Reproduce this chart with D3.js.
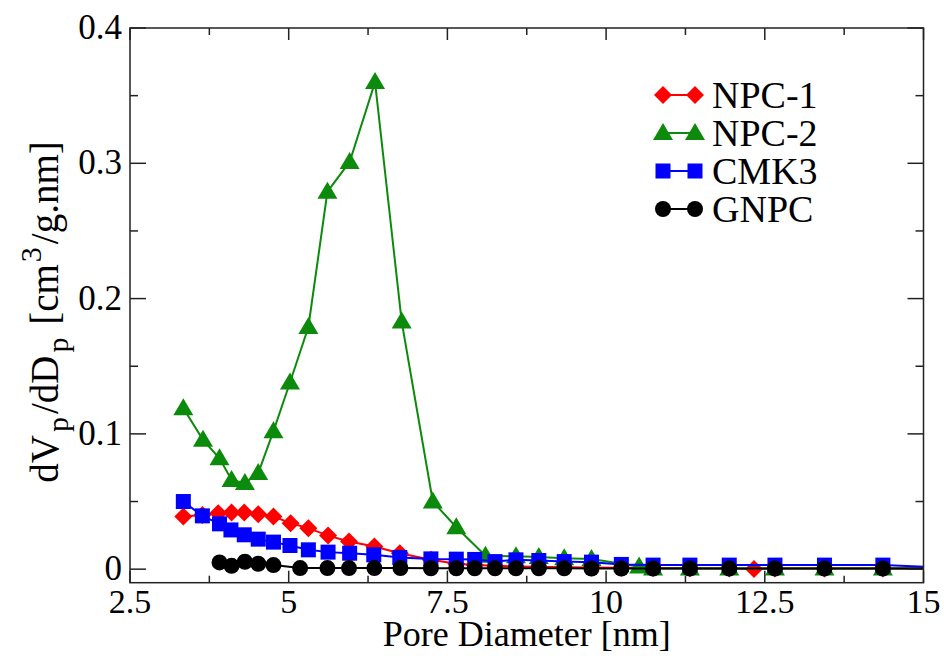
<!DOCTYPE html>
<html><head><meta charset="utf-8">
<script src="https://cdn.jsdelivr.net/npm/d3@7"></script>
<style>body{margin:0;background:#fff}svg{display:block}text{font-family:"Liberation Serif","Times New Roman",serif;fill:#000}</style>
</head><body>
<script>
// ---- data ----
const npc1X = [3.34,3.64,3.89,4.10,4.30,4.52,4.76,5.03,5.31,5.62,5.95,6.35,6.75,7.24,7.64,7.93,8.25,8.58,8.94,9.34,9.77,10.24,10.74,11.32,11.94,12.33,12.66,13.44,14.36,15.50];
const npc1Y = [0.0389,0.040,0.0414,0.0418,0.0418,0.0406,0.0389,0.034,0.0303,0.0248,0.0204,0.0167,0.0118,0.0069,0.004,0.003,0.0025,0.002,0.0018,0.0015,0.0012,0.001,0.0008,0.0006,0.0005,0.0002,0.0005,0.0005,0.0005,0.0005];
const npc2X = [3.34,3.65,3.91,4.10,4.31,4.52,4.76,5.02,5.31,5.61,5.96,6.36,6.78,7.27,7.64,8.10,8.58,8.94,9.34,9.77,10.52,10.74,11.32,11.94,12.66,13.44,14.36,15.50];
const npc2Y = [0.119,0.0956,0.082,0.066,0.0636,0.071,0.102,0.138,0.179,0.279,0.301,0.360,0.183,0.050,0.031,0.010,0.0095,0.009,0.008,0.0075,0.002,0.0005,0.0005,0.0005,0.0005,0.0005,0.0005,0.0005];
const cmk3X = [3.34,3.64,3.91,4.09,4.30,4.52,4.76,5.02,5.31,5.62,5.96,6.34,6.75,7.24,7.64,7.93,8.25,8.58,8.94,9.34,9.77,10.24,10.74,11.32,11.94,12.66,13.44,14.36,15.50];
const cmk3Y = [0.050,0.0394,0.0335,0.029,0.0254,0.0222,0.020,0.0175,0.0143,0.0126,0.0118,0.0106,0.0086,0.0076,0.0074,0.0072,0.0056,0.0069,0.0064,0.0056,0.0052,0.0035,0.003,0.003,0.003,0.003,0.003,0.003,0.001];
const gnpcX = [3.91,4.10,4.31,4.52,4.76,5.18,5.61,5.95,6.35,6.76,7.24,7.64,7.93,8.25,8.58,8.94,9.34,9.77,10.24,10.74,11.32,11.94,12.66,13.44,14.36,15.50];
const gnpcY = [0.005,0.0025,0.0055,0.004,0.003,0.0008,0.0008,0.0008,0.0008,0.0008,0.0007,0.0007,0.0007,0.0006,0.0006,0.0006,0.0006,0.0005,0.0005,0.0005,0.0005,0.0005,0.0005,0.0005,0.0005,0.0005];
const seriesNames = ["NPC-1","NPC-2","CMK3","GNPC"];
const xTickValues = [2.5,5,7.5,10,12.5,15];
const xTickLabels = ["2.5","5","7.5","10","12.5","15"];
const yTickValues = [0,0.1,0.2,0.3,0.4];
const yTickLabels = ["0","0.1","0.2","0.3","0.4"];
const xMinor = [3.75,6.25,8.75,11.25,13.75];
const yMinor = [0.05,0.15,0.25,0.35];

const W=944,H=656;
const svg=d3.select("body").append("svg").attr("width",W).attr("height",H);
const x=d3.scaleLinear().domain([2.5,15]).range([130,923.5]);
const y=d3.scaleLinear().domain([-0.01,0.4]).range([582.7,28]);

svg.append("clipPath").attr("id","clip").append("rect")
  .attr("x",x(2.5)).attr("y",y(0.4)).attr("width",x(15)-x(2.5)).attr("height",y(-0.01)-y(0.4));

const series=[
  {name:seriesNames[0],xs:npc1X,ys:npc1Y,color:"#ff0000",shape:"diamond"},
  {name:seriesNames[1],xs:npc2X,ys:npc2Y,color:"#0b8a0b",shape:"triangle"},
  {name:seriesNames[2],xs:cmk3X,ys:cmk3Y,color:"#0000ff",shape:"square"},
  {name:seriesNames[3],xs:gnpcX,ys:gnpcY,color:"#000000",shape:"circle"}
];
function marker(g,shape,cx,cy,color){
  if(shape==="diamond") g.append("path").attr("d",`M${cx},${cy-9}L${cx+9},${cy}L${cx},${cy+9}L${cx-9},${cy}Z`).attr("fill",color);
  else if(shape==="triangle") g.append("path").attr("d",`M${cx},${cy-10}L${cx+10},${cy+7}L${cx-10},${cy+7}Z`).attr("fill",color);
  else if(shape==="square") g.append("rect").attr("x",cx-7.5).attr("y",cy-7.5).attr("width",15).attr("height",15).attr("fill",color);
  else g.append("circle").attr("cx",cx).attr("cy",cy).attr("r",8).attr("fill",color);
}
const plot=svg.append("g").attr("clip-path","url(#clip)");
const line=d3.line().x(d=>x(d[0])).y(d=>y(d[1]));
series.forEach(s=>{
  const pts=s.xs.map((v,i)=>[v,s.ys[i]]);
  const g=plot.append("g");
  g.append("path").attr("d",line(pts)).attr("fill","none").attr("stroke",s.color).attr("stroke-width",2);
  pts.forEach(p=>marker(g,s.shape,x(p[0]),y(p[1]),s.color));
});

const ax=svg.append("g").attr("stroke","#222").attr("stroke-width",1.5);
ax.append("rect").attr("x",x(2.5)).attr("y",y(0.4)).attr("width",x(15)-x(2.5)).attr("height",y(-0.01)-y(0.4)).attr("fill","none");
xTickValues.forEach(v=>{
  ax.append("line").attr("x1",x(v)).attr("x2",x(v)).attr("y1",y(-0.01)).attr("y2",y(-0.01)-12);
  ax.append("line").attr("x1",x(v)).attr("x2",x(v)).attr("y1",y(0.4)).attr("y2",y(0.4)+12);
});
xMinor.forEach(v=>{
  ax.append("line").attr("x1",x(v)).attr("x2",x(v)).attr("y1",y(-0.01)).attr("y2",y(-0.01)-7);
  ax.append("line").attr("x1",x(v)).attr("x2",x(v)).attr("y1",y(0.4)).attr("y2",y(0.4)+7);
});
yTickValues.forEach(v=>{
  ax.append("line").attr("x1",x(2.5)).attr("x2",x(2.5)+16).attr("y1",y(v)).attr("y2",y(v));
  ax.append("line").attr("x1",x(15)).attr("x2",x(15)-16).attr("y1",y(v)).attr("y2",y(v));
});
yMinor.forEach(v=>{
  ax.append("line").attr("x1",x(2.5)).attr("x2",x(2.5)+8).attr("y1",y(v)).attr("y2",y(v));
  ax.append("line").attr("x1",x(15)).attr("x2",x(15)-8).attr("y1",y(v)).attr("y2",y(v));
});
xTickValues.forEach((v,i)=>{
  svg.append("text").attr("x",x(v)).attr("y",613).attr("text-anchor","middle").attr("font-size",34).text(xTickLabels[i]);
});
yTickValues.forEach((v,i)=>{
  svg.append("text").attr("x",122).attr("y",y(v)+11).attr("text-anchor","end").attr("font-size",35).text(yTickLabels[i]);
});
svg.append("text").attr("x",(x(2.5)+x(15))/2).attr("y",646).attr("text-anchor","middle").attr("font-size",36).text("Pore Diameter [nm]");
const yt=svg.append("text").attr("transform","translate(58,312) rotate(-90)").attr("text-anchor","middle").attr("font-size",39);
yt.append("tspan").text("dV");
yt.append("tspan").attr("font-size",30).attr("dy",10).attr("dx",3).text("p");
yt.append("tspan").attr("dy",-10).attr("dx",3).text("/dD");
yt.append("tspan").attr("font-size",30).attr("dy",10).attr("dx",3).text("p");
yt.append("tspan").attr("dy",-10).attr("dx",3).text(" [cm");
yt.append("tspan").attr("font-size",30).attr("dy",-17).attr("dx",2).text("3");
yt.append("tspan").attr("dy",17).attr("dx",3).text("/g.nm]");

const legY=[95,133,171,209];
series.forEach((s,i)=>{
  const g=svg.append("g");
  g.append("line").attr("x1",663).attr("x2",695).attr("y1",legY[i]).attr("y2",legY[i]).attr("stroke",s.color).attr("stroke-width",2);
  marker(g,s.shape,663,legY[i],s.color);
  marker(g,s.shape,695,legY[i],s.color);
  g.append("text").attr("x",712).attr("y",legY[i]+13).attr("font-size",38).text(s.name);
});
</script>
</body></html>
